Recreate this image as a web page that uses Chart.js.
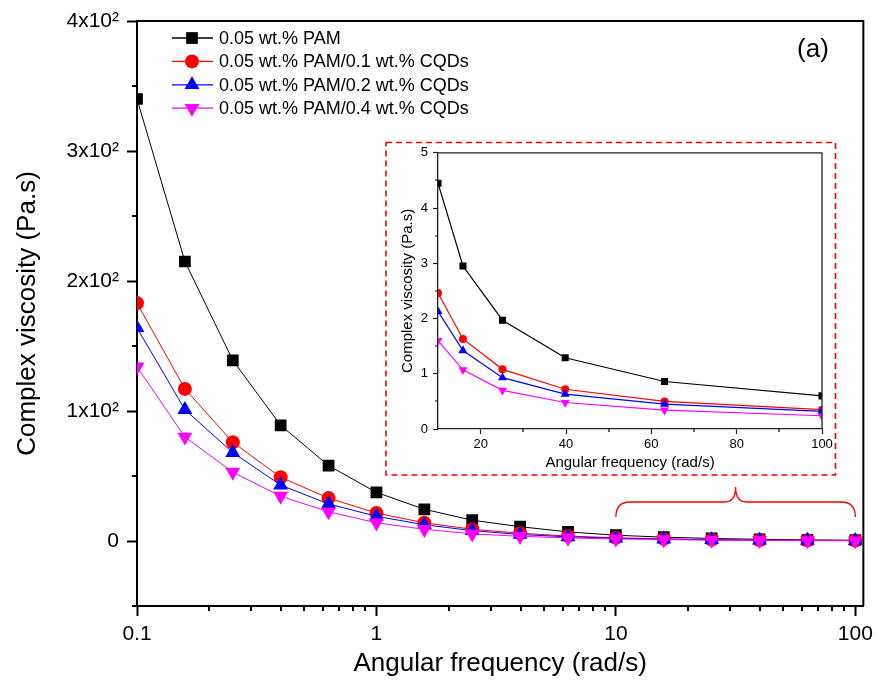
<!DOCTYPE html>
<html>
<head>
<meta charset="utf-8">
<title>Complex viscosity vs angular frequency</title>
<script src="https://cdn.jsdelivr.net/npm/chart.js@4.4.0/dist/chart.umd.min.js"></script>
<style>
  html, body { margin: 0; padding: 0; background: #fff; }
  #wrap { position: relative; width: 879px; height: 682px; }
  #main { position: absolute; left: 0; top: 0; }
  #inset { position: absolute; left: 385px; top: 140px; }
</style>
</head>
<body>
<div id="wrap">
  <canvas id="main" width="879" height="682"></canvas>
  <canvas id="inset" width="452" height="338"></canvas>
</div>
<script>
const FONT = "'Liberation Sans', Arial, sans-serif";

// angular frequency (rad/s), 5 points per decade
const frequency = [0.1, 0.1585, 0.2512, 0.3981, 0.631, 1, 1.585, 2.512, 3.981, 6.31, 10, 15.85, 25.12, 39.81, 63.1, 100];

// complex viscosity (Pa.s)
const pam      = [340, 215, 139, 89, 58, 37.4, 24.4, 16, 11, 7, 4.45, 2.95, 1.97, 1.29, 0.86, 0.6];
const pamCqd01 = [183, 117, 76, 49, 33, 21.5, 14, 9, 6, 3.8, 2.46, 1.63, 1.08, 0.72, 0.5, 0.35];
const pamCqd02 = [164, 101, 68, 43, 28.5, 19, 12.5, 8, 5, 3.2, 2.13, 1.42, 0.93, 0.63, 0.45, 0.32];
const pamCqd04 = [134, 80, 53, 34.5, 22.5, 14, 9, 5.5, 3.6, 2.4, 1.6, 1.07, 0.7, 0.48, 0.34, 0.24];

const seriesLabels = ['0.05 wt.% PAM', '0.05 wt.% PAM/0.1 wt.% CQDs', '0.05 wt.% PAM/0.2 wt.% CQDs', '0.05 wt.% PAM/0.4 wt.% CQDs'];
const seriesColors = ['#000000', '#ff0000', '#0000ff', '#ff00ff'];
const seriesMarkers = ['rect', 'circle', 'triangle', 'triangle'];
const markerRotation = [0, 0, 0, 180];

// main axis ticks
const xDecades = [0.1, 1, 10, 100];
const xMinor = [0.1, 1, 10].flatMap(d => [2, 3, 4, 5, 6, 7, 8, 9].map(k => Number((k * d).toPrecision(3))));
const yMajor = [0, 100, 200, 300, 400];
const yLabels = ['0', '1x10²', '2x10²', '3x10²', '4x10²'];
const yMinor = [-50, 50, 150, 250, 350];

// inset (10-100 rad/s, linear)
const insetFrom = 10; // index of 10 rad/s in frequency
const insetXMajor = [20, 40, 60, 80, 100];
const insetXMinor = [30, 50, 70, 90];
const insetYMajor = [0, 1, 2, 3, 4, 5];
const insetYMinor = [0.5, 1.5, 2.5, 3.5, 4.5];

function buildDatasets(fromIndex, radii, lineWidth) {
  return [pam, pamCqd01, pamCqd02, pamCqd04].map((vals, i) => ({
    label: seriesLabels[i],
    data: frequency.slice(fromIndex).map((f, k) => ({ x: f, y: vals[fromIndex + k] })),
    borderColor: seriesColors[i],
    backgroundColor: seriesColors[i],
    borderWidth: lineWidth,
    pointStyle: seriesMarkers[i],
    pointRotation: markerRotation[i],
    pointRadius: radii[i],
    pointBorderWidth: 0,
    pointBackgroundColor: seriesColors[i],
    tension: 0,
    order: 4 - i
  }));
}

// same geometry as Chart.js point styles
function drawMarker(ctx, style, rotation, r, x, y) {
  ctx.beginPath();
  if (style === 'circle') {
    ctx.arc(x, y, r, 0, Math.PI * 2);
  } else if (style === 'rect') {
    const s = Math.SQRT1_2 * r;
    ctx.rect(x - s, y - s, 2 * s, 2 * s);
  } else {
    let rad = rotation * Math.PI / 180;
    ctx.moveTo(x + Math.sin(rad) * r, y - Math.cos(rad) * r);
    rad += 2 * Math.PI / 3;
    ctx.lineTo(x + Math.sin(rad) * r, y - Math.cos(rad) * r);
    rad += 2 * Math.PI / 3;
    ctx.lineTo(x + Math.sin(rad) * r, y - Math.cos(rad) * r);
    ctx.closePath();
  }
  ctx.fill();
}

// top/right box edges and short minor ticks
const framePlugin = {
  id: 'frame',
  afterDraw(chart, args, opts) {
    const { ctx, chartArea: a } = chart;
    const xs = chart.scales.x, ys = chart.scales.y;
    ctx.save();
    ctx.strokeStyle = opts.color;
    ctx.lineWidth = opts.lineWidth;
    ctx.beginPath();
    ctx.moveTo(a.left, a.top);
    ctx.lineTo(a.right, a.top);
    ctx.lineTo(a.right, a.bottom);
    ctx.stroke();
    ctx.strokeStyle = '#000';
    ctx.lineWidth = opts.tickWidth;
    ctx.beginPath();
    opts.xMinor.forEach(v => {
      const px = Math.round(xs.getPixelForValue(v));
      ctx.moveTo(px, a.bottom);
      ctx.lineTo(px, a.bottom + opts.minorLength);
    });
    opts.yMinor.forEach(v => {
      const py = Math.round(ys.getPixelForValue(v));
      ctx.moveTo(a.left, py);
      ctx.lineTo(a.left - opts.minorLength, py);
    });
    ctx.stroke();
    ctx.restore();
  }
};

// legend, panel letter and the brace marking the zoomed range
const mainExtras = {
  id: 'mainExtras',
  afterDraw(chart) {
    const ctx = chart.ctx;
    const xs = chart.scales.x, ys = chart.scales.y;
    ctx.save();
    ctx.font = '18px ' + FONT;
    ctx.textBaseline = 'middle';
    chart.data.datasets.forEach((ds, i) => {
      const yy = 38 + i * 23.4;
      ctx.strokeStyle = ds.borderColor;
      ctx.lineWidth = 1.3;
      ctx.beginPath();
      ctx.moveTo(172, yy);
      ctx.lineTo(213, yy);
      ctx.stroke();
      ctx.fillStyle = ds.borderColor;
      drawMarker(ctx, ds.pointStyle, ds.pointRotation, ds.pointRadius, 192, yy);
      ctx.fillStyle = '#000';
      ctx.fillText(ds.label, 219, yy + 1);
    });

    ctx.font = '26px ' + FONT;
    ctx.textAlign = 'center';
    ctx.fillText('(a)', 813, 50);

    const x1 = xs.getPixelForValue(frequency[insetFrom]);
    const x2 = xs.getPixelForValue(frequency[frequency.length - 1]);
    const xm = (x1 + x2) / 2;
    const yEnd = ys.getPixelForValue(18.5);
    const yMid = ys.getPixelForValue(30);
    const yTip = ys.getPixelForValue(41.5);
    ctx.strokeStyle = '#ff0000';
    ctx.lineWidth = 1.3;
    ctx.beginPath();
    ctx.moveTo(x1, yEnd);
    ctx.quadraticCurveTo(x1, yMid, x1 + 14, yMid);
    ctx.lineTo(xm - 11, yMid);
    ctx.quadraticCurveTo(xm, yMid, xm, yTip);
    ctx.quadraticCurveTo(xm, yMid, xm + 11, yMid);
    ctx.lineTo(x2 - 14, yMid);
    ctx.quadraticCurveTo(x2, yMid, x2, yEnd);
    ctx.stroke();
    ctx.restore();
  }
};

// dashed red box around the inset
const dashedBox = {
  id: 'dashedBox',
  afterDraw(chart) {
    const ctx = chart.ctx;
    ctx.save();
    ctx.strokeStyle = '#ff0000';
    ctx.lineWidth = 1.6;
    ctx.setLineDash([6, 4]);
    ctx.strokeRect(1, 2.5, 449.5, 332.5);
    ctx.restore();
  }
};

new Chart(document.getElementById('main'), {
  type: 'line',
  data: { datasets: buildDatasets(0, [8.3, 7, 8.6, 8.6], 1) },
  options: {
    responsive: false,
    animation: false,
    layout: { padding: { top: 21, right: 13, left: 0, bottom: 0 } },
    plugins: {
      legend: { display: false },
      tooltip: { enabled: false },
      frame: { color: '#000', lineWidth: 2, tickWidth: 2, minorLength: 5, xMinor: xMinor, yMinor: yMinor }
    },
    scales: {
      x: {
        type: 'logarithmic',
        min: 0.1,
        max: 108,
        afterBuildTicks: s => { s.ticks = xDecades.map(v => ({ value: v })); },
        afterFit: s => { s.height = 76; },
        border: { color: '#000', width: 2 },
        grid: { drawOnChartArea: false, tickLength: 10, tickWidth: 2, tickColor: '#000' },
        ticks: {
          callback: v => String(v),
          color: '#000',
          font: { size: 21, family: FONT },
          padding: 6,
          maxRotation: 0,
          autoSkip: false
        },
        title: {
          display: true,
          text: 'Angular frequency (rad/s)',
          color: '#000',
          font: { size: 26, family: FONT },
          padding: { top: 0, bottom: 3 }
        }
      },
      y: {
        type: 'linear',
        min: -50,
        max: 400,
        afterBuildTicks: s => { s.ticks = yMajor.map(v => ({ value: v })); },
        afterFit: s => { s.width = 137; },
        border: { color: '#000', width: 2 },
        grid: { drawOnChartArea: false, tickLength: 10, tickWidth: 2, tickColor: '#000' },
        ticks: {
          callback: v => yLabels[yMajor.indexOf(v)],
          color: '#000',
          font: { size: 21, family: FONT },
          padding: 8,
          autoSkip: false
        },
        title: {
          display: true,
          text: 'Complex viscosity (Pa.s)',
          color: '#000',
          font: { size: 26, family: FONT },
          padding: { top: 12, bottom: 0 }
        }
      }
    }
  },
  plugins: [framePlugin, mainExtras]
});

new Chart(document.getElementById('inset'), {
  type: 'line',
  data: { datasets: buildDatasets(insetFrom, [5, 4, 5.2, 5.2], 1.2) },
  options: {
    responsive: false,
    animation: false,
    layout: { padding: { top: 12, right: 15, left: 0, bottom: 0 } },
    plugins: {
      legend: { display: false },
      tooltip: { enabled: false },
      frame: { color: '#222', lineWidth: 1.3, tickWidth: 1.2, minorLength: 3, xMinor: insetXMinor, yMinor: insetYMinor }
    },
    scales: {
      x: {
        type: 'linear',
        min: 10,
        max: 100,
        afterBuildTicks: s => { s.ticks = insetXMajor.map(v => ({ value: v })); },
        afterFit: s => { s.height = 49; },
        border: { color: '#222', width: 1.3 },
        grid: { drawOnChartArea: false, tickLength: 5, tickWidth: 1.2, tickColor: '#222' },
        ticks: { color: '#000', font: { size: 13, family: FONT }, padding: 3, maxRotation: 0, autoSkip: false },
        title: {
          display: true,
          text: 'Angular frequency (rad/s)',
          color: '#000',
          font: { size: 15, family: FONT },
          padding: { top: 0, bottom: 6 }
        }
      },
      y: {
        type: 'linear',
        min: 0,
        max: 5,
        afterBuildTicks: s => { s.ticks = insetYMajor.map(v => ({ value: v })); },
        afterFit: s => { s.width = 53; },
        border: { color: '#222', width: 1.3 },
        grid: { drawOnChartArea: false, tickLength: 5, tickWidth: 1.2, tickColor: '#222' },
        ticks: { color: '#000', font: { size: 13, family: FONT }, padding: 5, autoSkip: false },
        title: {
          display: true,
          text: 'Complex viscosity (Pa.s)',
          color: '#000',
          font: { size: 15, family: FONT },
          padding: { top: 14, bottom: 0 }
        }
      }
    }
  },
  plugins: [framePlugin, dashedBox]
});
</script>
</body>
</html>
